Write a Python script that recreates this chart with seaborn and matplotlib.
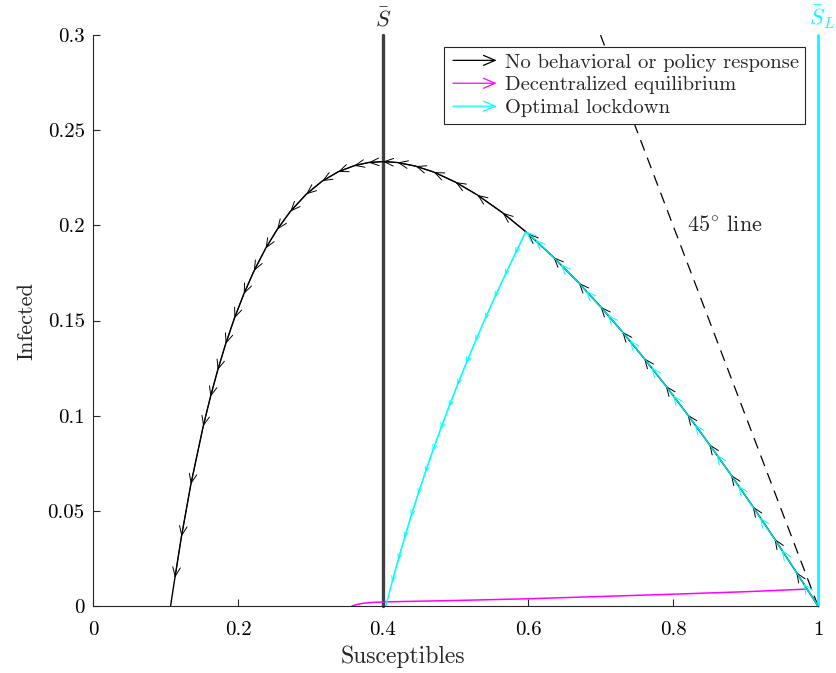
import numpy as np
import matplotlib
matplotlib.use("Agg")
import matplotlib.pyplot as plt
import seaborn as sns
from matplotlib.lines import Line2D
from matplotlib.patches import FancyArrowPatch
from matplotlib.legend_handler import HandlerBase

# ---------------- data ----------------
# No behavioral or policy response trajectory (S, I), starting at S=1
none_s = [1.0, 0.97, 0.94, 0.91, 0.88, 0.85, 0.82, 0.79, 0.76, 0.73, 0.70, 0.67,
          0.635, 0.60, 0.565, 0.53, 0.50, 0.47, 0.445, 0.42, 0.40, 0.38, 0.36,
          0.338, 0.316, 0.294, 0.272, 0.254, 0.238, 0.222, 0.208, 0.195, 0.183,
          0.172, 0.162, 0.152, 0.135, 0.122, 0.113, 0.107]
none_i = [0.0, 0.0178, 0.0353, 0.0523, 0.0689, 0.0850, 0.1006, 0.1157, 0.1302, 0.1441,
          0.1573, 0.1698, 0.1833, 0.1957, 0.2066, 0.2160, 0.2227, 0.2280, 0.2311,
          0.2330, 0.2335, 0.2330, 0.2313, 0.2281, 0.2232, 0.2163, 0.2072, 0.1978,
          0.1878, 0.1760, 0.1639, 0.1511, 0.1377, 0.1239, 0.1099, 0.0944,
          0.0640, 0.0365, 0.0149, 0.0]

# Decentralized equilibrium trajectory
dec_s = [1.0, 0.985, 0.9, 0.8, 0.7, 0.6, 0.5, 0.42, 0.40, 0.386, 0.372, 0.364, 0.357]
dec_i = [0.0, 0.0089, 0.0075, 0.0062, 0.0050, 0.0038, 0.0029, 0.0023, 0.0021,
         0.0019, 0.0014, 0.0008, 0.0]

# Optimal lockdown trajectory: epidemic phase, then lockdown phase
opt_s = [1.0, 0.98, 0.95, 0.92, 0.89, 0.86, 0.83, 0.80, 0.77, 0.74, 0.71, 0.68,
         0.645, 0.61, 0.597]
opt_i = [0.0, 0.0119, 0.0295, 0.0466, 0.0634, 0.0797, 0.0955, 0.1107, 0.1255,
         0.1396, 0.1530, 0.1657, 0.1796, 0.1923, 0.1967]
lock_s = [0.597, 0.5822, 0.5679, 0.5539, 0.5404, 0.5274, 0.5147, 0.5025, 0.4908,
          0.4795, 0.4686, 0.4582, 0.4481, 0.4385, 0.4295, 0.4208, 0.4125, 0.4053, 0.404]
lock_i = [0.1967, 0.185, 0.1735, 0.162, 0.1505, 0.139, 0.1275, 0.116, 0.1045,
          0.093, 0.0815, 0.070, 0.0585, 0.047, 0.0355, 0.024, 0.0125, 0.002, 0.0]

s_bar = 0.4
s_bar_l = 1.0
diag_s = [0.7, 1.0]
diag_i = [0.3, 0.0]

xticks = [0, 0.2, 0.4, 0.6, 0.8, 1.0]
xticklabels = ["0", "0.2", "0.4", "0.6", "0.8", "1"]
yticks = [0, 0.05, 0.1, 0.15, 0.2, 0.25, 0.3]
yticklabels = ["0", "0.05", "0.1", "0.15", "0.2", "0.25", "0.3"]

labels = ["No behavioral or policy response", "Decentralized equilibrium", "Optimal lockdown"]
colors = ["black", "#ff00ff", "#00ffff"]

# ---------------- style ----------------
sns.set_theme(style="white")
plt.rcParams["font.family"] = ["cmr10", "DejaVu Serif"]
plt.rcParams["mathtext.fontset"] = "cm"
plt.rcParams["axes.formatter.use_mathtext"] = True

fig = plt.figure(figsize=(8.37, 6.73), dpi=100)
ax = fig.add_axes([93 / 837, 67 / 673, 725 / 837, 571 / 673])

# 45 degree line
sns.lineplot(x=diag_s, y=diag_i, ax=ax, color="black", lw=0.9, sort=False,
             estimator=None, dashes=False, linestyle=(0, (9, 6)))

# S bar lines
ax.plot([s_bar, s_bar], [0, 0.3], color="#404040", lw=2.4, zorder=2, clip_on=False)
ax.plot([s_bar_l, s_bar_l], [0, 0.3], color="#00ffff", lw=2.0, zorder=2, clip_on=False)

sns.lineplot(x=none_s, y=none_i, ax=ax, color=colors[0], lw=1.0, sort=False, estimator=None)
sns.lineplot(x=dec_s, y=dec_i, ax=ax, color=colors[1], lw=1.1, sort=False, estimator=None)
sns.lineplot(x=opt_s, y=opt_i, ax=ax, color=colors[2], lw=1.1, sort=False, estimator=None)
sns.lineplot(x=lock_s, y=lock_i, ax=ax, color=colors[2], lw=1.1, sort=False, estimator=None)


def heads(xs, ys, color, scale, lw=0.7):
    for k in range(len(xs) - 1):
        ax.annotate("", xy=(xs[k + 1], ys[k + 1]), xytext=(xs[k], ys[k]),
                    arrowprops=dict(arrowstyle="->,head_length=0.6,head_width=0.25",
                                    color=color, lw=lw, shrinkA=0, shrinkB=0,
                                    mutation_scale=scale), zorder=4)


heads(none_s[:-1], none_i[:-1], colors[0], 11)
heads(opt_s, opt_i, colors[2], 11)
heads(lock_s[:-2], lock_i[:-2], colors[2], 6)

ax.set_xlim(0, 1)
ax.set_ylim(0, 0.3)
ax.set_xticks(xticks)
ax.set_xticklabels(xticklabels)
ax.set_yticks(yticks)
ax.set_yticklabels(yticklabels)
ax.tick_params(direction="in", length=5, width=0.8, colors="#262626", labelsize=15,
               labelcolor="black", bottom=True, left=True, top=False, right=False)
ax.tick_params(axis="x", pad=11)
ax.tick_params(axis="y", pad=6)
for side in ["top", "right"]:
    ax.spines[side].set_visible(False)
for side in ["left", "bottom"]:
    ax.spines[side].set_color("#262626")
    ax.spines[side].set_linewidth(0.8)
ax.set_xlabel("Susceptibles", fontsize=17)
ax.xaxis.set_label_coords(0.428, -0.089)
ax.xaxis.label.set_va("center")
ax.set_ylabel("Infected", fontsize=16, labelpad=8)

ax.text(s_bar, 0.3022, r"$\bar{S}$", ha="center", va="bottom", fontsize=16)
ax.text(s_bar_l + 0.006, 0.3022, r"$\bar{S}_L$", ha="center", va="bottom",
        fontsize=16, color="#00ffff")
ax.text(0.82, 0.2, r"$45^{\circ}$ line", ha="left", va="center", fontsize=16)


class HandlerArrow(HandlerBase):
    def create_artists(self, legend, orig_handle, xdescent, ydescent, width,
                       height, fontsize, trans):
        y = height / 2 - ydescent
        p = FancyArrowPatch((-xdescent, y), (width - xdescent, y),
                            arrowstyle="->,head_length=0.7,head_width=0.3",
                            mutation_scale=12, color=orig_handle.get_color(),
                            lw=0.9, transform=trans)
        return [p]


handles = [Line2D([], [], color=c) for c in colors]
leg = ax.legend(handles, labels, handler_map={Line2D: HandlerArrow()},
                loc="upper right", bbox_to_anchor=(0.982, 0.979), borderaxespad=0,
                fontsize=14.8, handlelength=2.4, handletextpad=0.25,
                labelspacing=0.22, borderpad=0.3, fancybox=False, framealpha=1,
                edgecolor="#262626")
leg.get_frame().set_linewidth(0.8)

fig.savefig("out.png", dpi=100)
